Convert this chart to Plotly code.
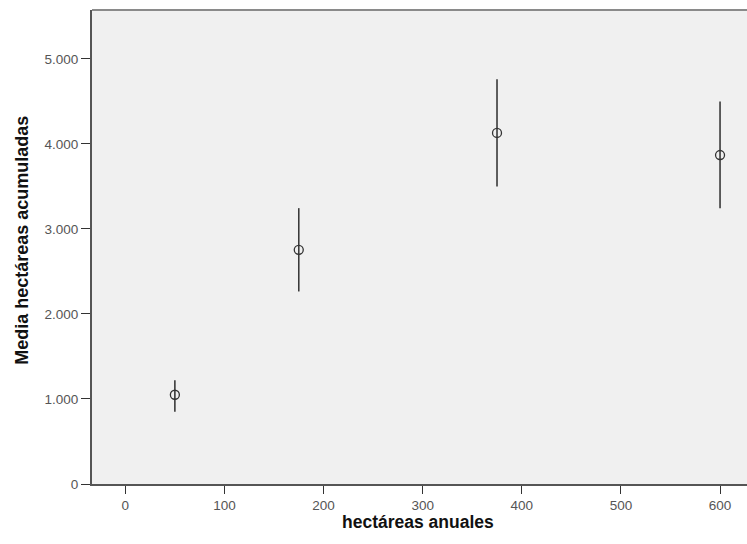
import plotly.graph_objects as go

# Data
hectareas_anuales = [50, 175, 375, 600]
media_acumuladas = [1050, 2755, 4130, 3870]
ic_superior = [1220, 3245, 4760, 4500]
ic_inferior = [850, 2265, 3500, 3245]

y_tick_vals = [0, 1000, 2000, 3000, 4000, 5000]
y_tick_text = ["0", "1.000", "2.000", "3.000", "4.000", "5.000"]
x_tick_vals = [0, 100, 200, 300, 400, 500, 600]

err_plus = [u - m for u, m in zip(ic_superior, media_acumuladas)]
err_minus = [m - l for m, l in zip(media_acumuladas, ic_inferior)]

fig = go.Figure()
fig.add_trace(go.Scatter(
    x=hectareas_anuales,
    y=media_acumuladas,
    mode="markers",
    marker=dict(symbol="circle-open", size=9, color="#333333", line=dict(width=1.3, color="#333333")),
    error_y=dict(type="data", symmetric=False, array=err_plus, arrayminus=err_minus,
                 width=0, thickness=1.6, color="#3a3a3a"),
    showlegend=False,
))

fig.add_shape(type="line", xref="paper", yref="paper", x0=0, x1=1, y0=1, y1=1,
              line=dict(color="#8a8a8a", width=2))

font_family = "Liberation Sans, Arial, sans-serif"

fig.add_annotation(text="<b>hectáreas anuales</b>", xref="paper", yref="paper",
                   x=0.497, y=-0.08, xanchor="center", yanchor="middle", showarrow=False,
                   font=dict(size=17.5, color="#111111", family=font_family))
fig.add_annotation(text="<b>Media hectáreas acumuladas</b>", xref="paper", yref="paper",
                   x=-0.107, y=0.515, xanchor="center", yanchor="middle", showarrow=False,
                   textangle=-90,
                   font=dict(size=18, color="#111111", family=font_family))

fig.update_layout(
    width=747, height=544,
    margin=dict(l=92, r=0, t=10, b=60),
    paper_bgcolor="white",
    plot_bgcolor="#F0F0F0",
    font=dict(family=font_family, size=13.5, color="#555555"),
    xaxis=dict(
        range=[-33.6, 627.2],
        tickvals=x_tick_vals,
        ticks="outside", ticklen=8, tickwidth=1.3, tickcolor="#333333",
        showline=True, linecolor="#555555", linewidth=2,
        showgrid=False, zeroline=False,
        tickfont=dict(size=13.5, color="#555555"),
    ),
    yaxis=dict(
        range=[0, 5576],
        tickvals=y_tick_vals, ticktext=y_tick_text,
        ticks="outside", ticklen=9, tickwidth=1.3, tickcolor="#333333",
        showline=True, linecolor="#555555", linewidth=2,
        showgrid=False, zeroline=False,
        tickfont=dict(size=13.5, color="#555555"),
    ),
)

fig.write_html("out.html", config={"displayModeBar": False},
               post_script="document.body.style.margin='0px';")
